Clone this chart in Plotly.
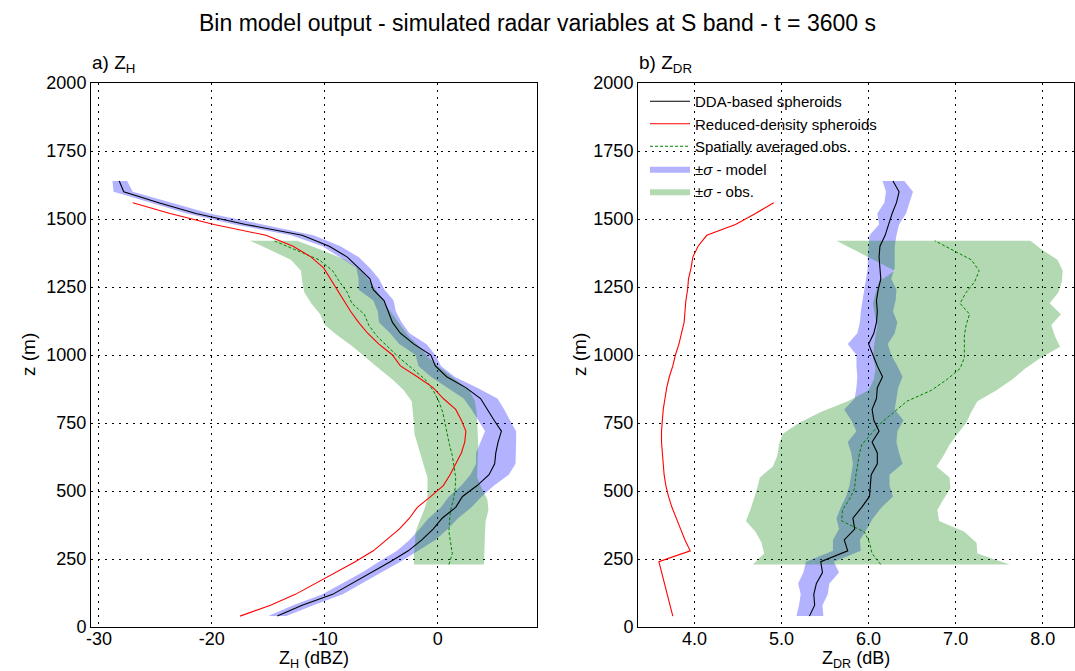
import plotly.graph_objects as go

# ---------------- data ----------------
z_model = [40, 80, 120, 160, 200, 240, 280, 320, 360, 400, 440, 480, 520, 560, 600,
           640, 680, 720, 760, 800, 840, 880, 920, 960, 1000, 1040, 1080, 1120, 1160,
           1200, 1240, 1280, 1320, 1360, 1400, 1440, 1480, 1520, 1560, 1600, 1640]

zh_dda = [-14.2, -12.0, -9.3, -7.6, -5.8, -4.2, -2.6, -1.4, -0.4, 0.4, 1.6, 2.2, 3.5, 4.55, 5.05,
          5.15, 5.35, 5.65, 5.0, 4.4, 3.8, 2.5, 0.8, -0.2, -0.6, -2.1, -3.3, -4.0, -4.4,
          -4.75, -5.7, -6.0, -7.0, -8.0, -9.6, -12.0, -17.0, -21.4, -24.7, -27.8, -28.2]
zh_dda_lo = [-15.0, -12.8, -10.2, -8.5, -6.7, -5.2, -3.6, -2.5, -1.6, -0.8, 0.3, 1.0, 2.1, 2.9, 3.4,
             3.4, 3.8, 4.2, 3.6, 3.0, 2.3, 0.8, -0.6, -1.7, -1.95, -3.4, -4.2, -5.2, -5.3,
             -5.7, -7.0, -7.0, -7.2, -8.7, -10.2, -13.0, -18.0, -22.2, -25.5, -28.7, -28.8]
zh_dda_hi = [-13.4, -11.0, -8.4, -6.7, -5.0, -3.3, -1.7, -0.2, 0.9, 1.8, 3.0, 3.9, 5.0, 6.3, 6.9,
             6.95, 6.95, 6.95, 6.4, 5.9, 5.3, 3.5, 1.5, 0.3, -0.2, -1.0, -2.5, -3.2, -3.7,
             -3.9, -4.7, -5.2, -6.0, -7.0, -8.6, -11.0, -15.5, -20.2, -23.5, -27.0, -27.5]

z_red = [40, 80, 120, 160, 200, 240, 280, 320, 360, 400, 440, 480, 520, 560, 600,
         640, 680, 720, 760, 800, 840, 880, 920, 960, 1000, 1040, 1080, 1120, 1160,
         1200, 1240, 1280, 1320, 1360, 1400, 1440, 1480, 1520, 1560]
zh_red = [-17.5, -14.8, -12.6, -10.8, -9.0, -7.3, -5.7, -4.6, -3.4, -2.5, -1.8, -0.6, 0.5, 1.1, 1.6,
          2.1, 2.4, 2.5, 2.1, 1.6, 0.5, -0.4, -1.8, -3.3, -4.0, -5.2, -6.2, -7.0, -7.7,
          -8.3, -8.9, -9.5, -10.1, -11.2, -12.8, -15.2, -19.8, -23.7, -27.0]

z_obs = [230, 270, 310, 350, 390, 430, 470, 510, 550, 590, 630, 670, 710, 750, 790,
         830, 870, 910, 950, 990, 1030, 1070, 1110, 1150, 1190, 1230, 1270, 1310, 1350,
         1390, 1420]
zh_obs = [1.0, 1.3, 1.15, 1.0, 1.05, 1.15, 1.4, 1.55, 1.6, 1.45, 1.3, 1.05, 0.85, 0.7, 0.45,
          0.1, -0.4, -1.1, -2.3, -3.4, -4.4, -5.4, -6.1, -6.5, -7.6, -8.0, -8.7, -9.3, -10.5,
          -12.7, -14.5]
zh_obs_lo = [-2.1, -2.1, -2.0, -1.95, -1.6, -1.2, -0.9, -0.9, -0.9, -1.2, -1.5, -1.8, -2.05, -2.1, -2.2,
             -2.3, -3.0, -4.0, -5.2, -6.3, -7.5, -8.8, -10.0, -10.4, -11.2, -11.8, -12.0, -12.1, -13.0,
             -15.0, -16.6]
zh_obs_hi = [4.1, 4.1, 4.15, 4.2, 4.25, 4.5, 4.4, 3.9, 3.5, 3.5, 3.55, 3.6, 3.55, 3.5, 3.45,
             3.3, 2.8, 1.5, 0.3, -0.8, -1.6, -2.6, -3.3, -4.0, -4.7, -5.3, -6.0, -6.8, -8.2,
             -10.5, -12.45]

zdr_dda = [5.32, 5.38, 5.37, 5.40, 5.47, 5.45, 5.76, 5.72, 5.84, 5.82, 5.92, 6.01, 6.02, 6.03, 6.10,
           6.10, 6.04, 6.12, 6.06, 6.04, 6.09, 6.10, 6.16, 6.10, 6.05, 6.00, 6.06, 6.09, 6.10,
           6.09, 6.11, 6.14, 6.13, 6.12, 6.13, 6.19, 6.23, 6.27, 6.32, 6.35, 6.28]
zdr_dda_lo = [5.17, 5.20, 5.22, 5.19, 5.25, 5.28, 5.59, 5.59, 5.66, 5.63, 5.68, 5.74, 5.78, 5.80, 5.82,
              5.80, 5.76, 5.86, 5.80, 5.72, 5.84, 5.86, 5.87, 5.86, 5.86, 5.76, 5.87, 5.90, 5.91,
              5.93, 5.95, 5.97, 5.99, 5.99, 6.00, 6.01, 6.12, 6.10, 6.18, 6.20, 6.16]
zdr_dda_hi = [5.48, 5.47, 5.53, 5.55, 5.66, 5.60, 5.91, 5.90, 5.98, 6.05, 6.15, 6.28, 6.24, 6.24, 6.39,
              6.35, 6.32, 6.33, 6.40, 6.30, 6.32, 6.34, 6.39, 6.33, 6.26, 6.22, 6.30, 6.33, 6.28,
              6.31, 6.32, 6.26, 6.30, 6.30, 6.30, 6.32, 6.35, 6.43, 6.47, 6.51, 6.41]

z_red_zdr = [40, 240, 280, 320, 360, 400, 440, 480, 520, 560, 600, 640, 680, 720, 760,
             800, 840, 880, 920, 960, 1000, 1040, 1080, 1120, 1160, 1200, 1240, 1280, 1320,
             1360, 1400, 1440, 1480, 1520, 1560]
zdr_red = [3.75, 3.59, 3.95, 3.89, 3.84, 3.79, 3.74, 3.70, 3.67, 3.65, 3.64, 3.63, 3.62, 3.62, 3.63,
           3.64, 3.66, 3.68, 3.71, 3.75, 3.78, 3.82, 3.85, 3.88, 3.89, 3.90, 3.92, 3.93, 3.96,
           3.98, 4.04, 4.14, 4.47, 4.70, 4.91]

zdr_obs = [6.14, 6.04, 6.01, 5.95, 5.69, 5.70, 5.78, 5.84, 5.85, 5.87, 5.89, 5.92, 6.03, 6.14, 6.29,
           6.44, 6.72, 6.90, 7.05, 7.10, 7.10, 7.10, 7.12, 7.16, 7.05, 7.12, 7.22, 7.27, 7.18,
           6.95, 6.76]
zdr_obs_lo = [4.67, 4.80, 4.77, 4.70, 4.59, 4.64, 4.68, 4.72, 4.75, 4.90, 4.95, 4.97, 5.01, 5.20, 5.45,
              5.76, 6.00, 6.06, 6.08, 6.05, 6.06, 6.08, 6.10, 6.07, 6.05, 6.08, 6.12, 6.30, 6.05,
              5.80, 5.63]
zdr_obs_hi = [7.62, 7.25, 7.24, 7.10, 6.81, 6.79, 6.86, 6.94, 6.93, 6.78, 6.86, 6.93, 7.02, 7.12, 7.18,
              7.25, 7.47, 7.65, 7.80, 7.98, 8.20, 8.14, 8.10, 8.21, 8.08, 8.18, 8.22, 8.23, 8.17,
              7.98, 7.86]

y_ticks = [0, 250, 500, 750, 1000, 1250, 1500, 1750, 2000]
zh_ticks = [-30, -20, -10, 0]
zdr_ticks = [4.0, 5.0, 6.0, 7.0, 8.0]

# ---------------- styling ----------------
FONT = "Liberation Sans, Arial, sans-serif"
BLUE_FILL = "rgba(0,0,255,0.3)"
GREEN_FILL = "rgba(0,128,0,0.3)"


def band(lo, hi, z):
    return list(lo) + list(hi)[::-1], list(z) + list(z)[::-1]


fig = go.Figure()

panels = [
    ("x", "y", zh_dda, zh_dda_lo, zh_dda_hi, z_red, zh_red, zh_obs, zh_obs_lo, zh_obs_hi, False),
    ("x2", "y2", zdr_dda, zdr_dda_lo, zdr_dda_hi, z_red_zdr, zdr_red, zdr_obs, zdr_obs_lo, zdr_obs_hi, True),
]

for xa, ya, dda, dlo, dhi, zr, red, obs, olo, ohi, leg in panels:
    bx, by = band(dlo, dhi, z_model)
    fig.add_trace(go.Scatter(x=bx, y=by, xaxis=xa, yaxis=ya, fill="toself", mode="lines",
                             line=dict(width=0), fillcolor=BLUE_FILL,
                             name="±<i>σ</i> - model", showlegend=leg, legendrank=4,
                             hoverinfo="skip"))
    gx, gy = band(olo, ohi, z_obs)
    fig.add_trace(go.Scatter(x=gx, y=gy, xaxis=xa, yaxis=ya, fill="toself", mode="lines",
                             line=dict(width=0), fillcolor=GREEN_FILL,
                             name="±<i>σ</i> - obs.", showlegend=leg, legendrank=5,
                             hoverinfo="skip"))
    fig.add_trace(go.Scatter(x=obs, y=z_obs, xaxis=xa, yaxis=ya, mode="lines",
                             line=dict(color="green", width=1, dash="3px,2px"),
                             name="Spatially averaged obs.", showlegend=leg, legendrank=3))
    fig.add_trace(go.Scatter(x=red, y=zr, xaxis=xa, yaxis=ya, mode="lines",
                             line=dict(color="red", width=1.1),
                             name="Reduced-density spheroids", showlegend=leg, legendrank=2))
    fig.add_trace(go.Scatter(x=dda, y=z_model, xaxis=xa, yaxis=ya, mode="lines",
                             line=dict(color="black", width=1.1),
                             name="DDA-based spheroids", showlegend=leg, legendrank=1))

W, H = 1075, 671
xd1 = [91 / W, 537 / W]
xd2 = [638 / W, 1074 / W]
yd = [1 - 627 / H, 1 - 83 / H]

axis_common = dict(showline=True, linecolor="black", linewidth=1, mirror=True,
                   showgrid=True, gridcolor="black", gridwidth=1, griddash="2px,5px",
                   zeroline=False, ticks="", automargin=False,
                   tickfont=dict(family=FONT, size=18, color="black"))

fig.update_layout(
    width=W, height=H, autosize=False,
    margin=dict(l=0, r=0, t=0, b=0, pad=0),
    paper_bgcolor="white", plot_bgcolor="white",
    font=dict(family=FONT, color="black"),
    xaxis=dict(domain=xd1, range=[-30.7, 8.8], tickvals=zh_ticks,
               ticktext=[str(v) for v in zh_ticks], anchor="y", ticklabelstandoff=-5,
               **axis_common),
    yaxis=dict(domain=yd, range=[0, 2000], tickvals=y_ticks, anchor="x", **axis_common),
    xaxis2=dict(domain=xd2, range=[3.35, 8.36], tickvals=zdr_ticks,
                ticktext=[f"{v:.1f}" for v in zdr_ticks], anchor="y2", ticklabelstandoff=-5,
                **axis_common),
    yaxis2=dict(domain=yd, range=[0, 2000], tickvals=y_ticks, anchor="x2", **axis_common),
    showlegend=True,
    legend=dict(x=645 / W, y=1 - 85 / H, xanchor="left", yanchor="top",
                bgcolor="rgba(0,0,0,0)", font=dict(family=FONT, size=15, color="black"),
                tracegroupgap=0, itemwidth=40),
)

annots = [
    dict(text="Bin model output - simulated radar variables at S band - t = 3600 s",
         x=0.5, y=1 - 23 / H, xanchor="center", yanchor="middle", font=dict(size=23)),
    dict(text="a) Z<sub>H</sub>", x=90 / W, y=1 - 64 / H, xanchor="left", yanchor="middle",
         font=dict(size=19)),
    dict(text="b) Z<sub>DR</sub>", x=637 / W, y=1 - 64 / H, xanchor="left", yanchor="middle",
         font=dict(size=19)),
    dict(text="Z<sub>H</sub> (dBZ)", x=(91 + 537) / 2 / W, y=1 - 659 / H, xanchor="center",
         yanchor="middle", font=dict(size=18)),
    dict(text="Z<sub>DR</sub> (dB)", x=(638 + 1074) / 2 / W, y=1 - 659 / H, xanchor="center",
         yanchor="middle", font=dict(size=18)),
    dict(text="z (m)", x=29 / W, y=(yd[0] + yd[1]) / 2, xanchor="center", yanchor="middle",
         textangle=-90, font=dict(size=19)),
    dict(text="z (m)", x=580 / W, y=(yd[0] + yd[1]) / 2, xanchor="center", yanchor="middle",
         textangle=-90, font=dict(size=19)),
]
for a in annots:
    a.update(xref="paper", yref="paper", showarrow=False)
    a["font"] = dict(family=FONT, color="black", **a["font"])
    fig.add_annotation(**a)

fig.write_html("out.html", config={"displayModeBar": False},
               post_script="document.body.style.margin='0';document.body.style.overflow='hidden';")
